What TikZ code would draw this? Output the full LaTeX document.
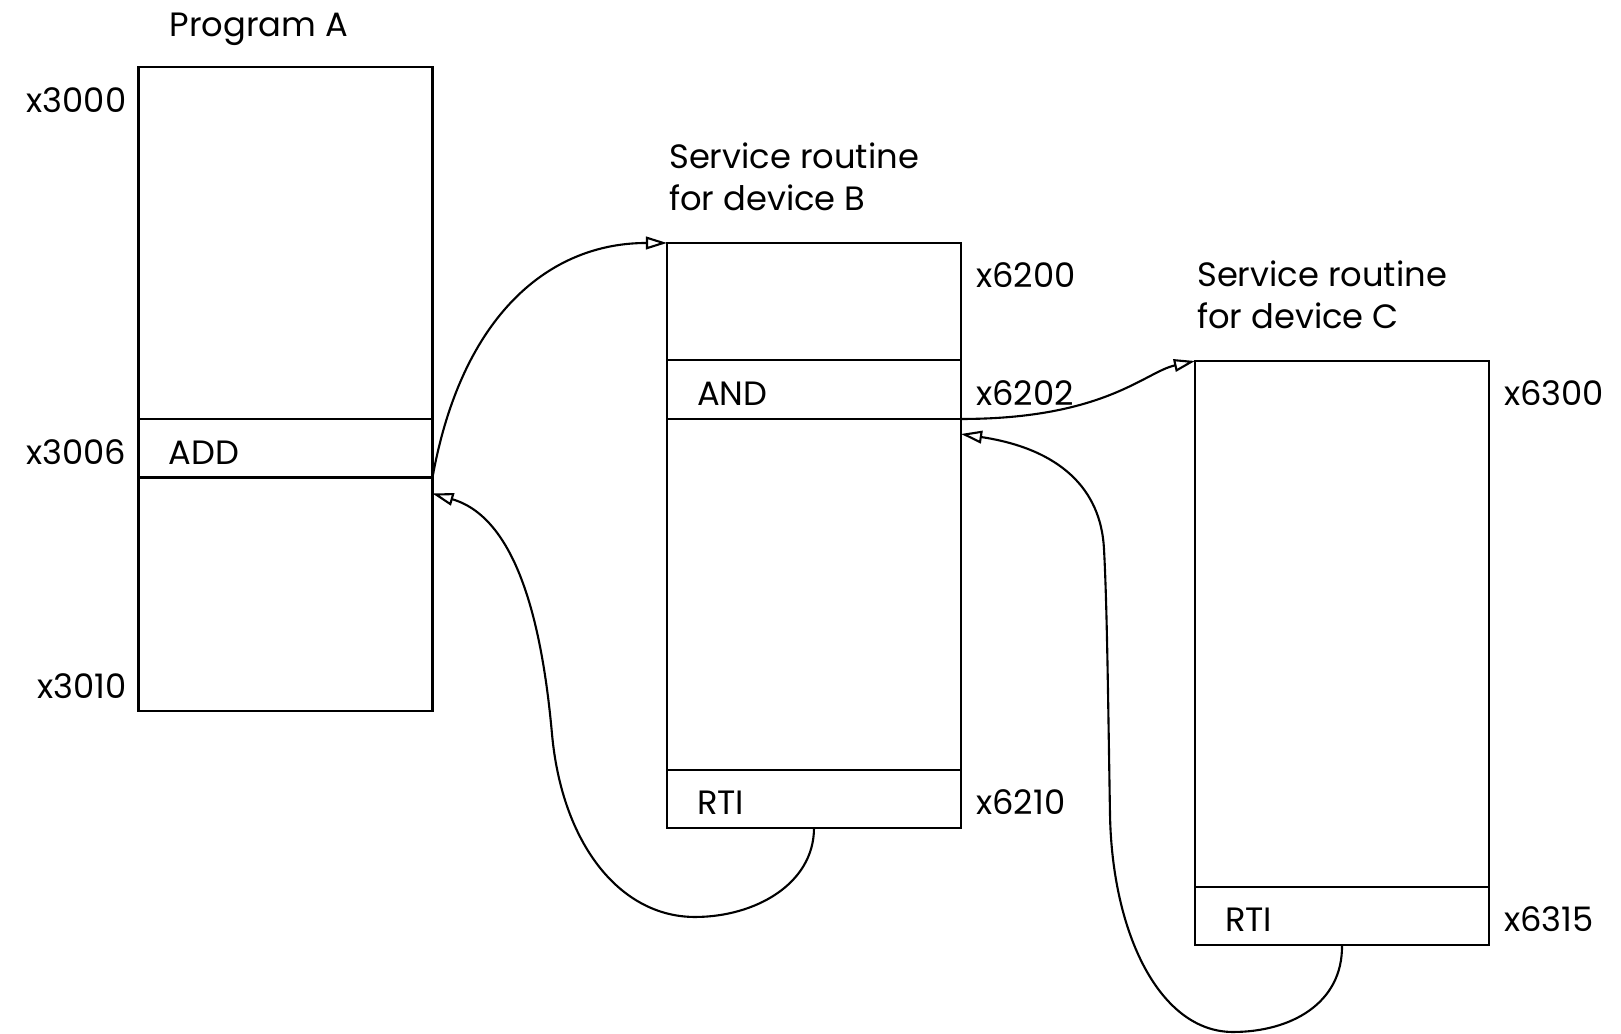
\documentclass[tikz,border=0pt]{standalone}
\usepackage{fontspec}
\setmainfont{Poppins}
\usetikzlibrary{arrows.meta,positioning}

\begin{document}
\begin{tikzpicture}[line width=0.7pt,
		cell/.style={draw, outer sep=0pt, minimum width=2.94cm, inner xsep=0.3cm, inner ysep=0pt, text width=2.34cm, text height=0.32cm, text depth=0cm, align=left, font=\fontsize{9.6}{11}\selectfont},
		addr/.style={inner sep=0pt, text height=0.32cm, text depth=0cm, font=\fontsize{9.6}{11}\selectfont},
		title/.style={inner sep=0pt, align=left, font=\fontsize{9.6}{11.8}\selectfont},
		flow/.style={line width=0.6pt, -{Triangle[open, length=6pt, width=3.6pt]}}]
		\useasboundingbox (0,0) rectangle (16.21,10.34);
		\node[cell, anchor=north west, minimum height=3.52cm] (A1) at (1.385,9.67) {};
		\node[cell, below=0pt of A1, minimum height=0.585cm] (A2) {ADD};
		\node[cell, below=0pt of A2, minimum height=2.335cm] (A3) {};
		\node[cell, anchor=north west, minimum height=1.17cm] (B1) at (6.67,7.91) {};
		\node[cell, below=0pt of B1, minimum height=0.59cm] (B2) {AND};
		\node[cell, below=0pt of B2, minimum height=3.51cm] (B3) {};
		\node[cell, below=0pt of B3, minimum height=0.58cm] (B4) {RTI};
		\node[cell, anchor=north west, minimum height=5.26cm] (C1) at (11.95,6.73) {};
		\node[cell, below=0pt of C1, minimum height=0.58cm] (C2) {RTI};
		\node[title, anchor=base west] (tA) at ([xshift=0.3cm, yshift=0.3cm]A1.north west) {Program A};
		\node[title, anchor=south west] (tB) at ([xshift=0.01cm, yshift=0.31cm]B1.north west) {Service routine\\for device B};
		\node[title, anchor=south west] (tC) at ([xshift=0.01cm, yshift=0.31cm]C1.north west) {Service routine\\for device C};
		\node[addr, below left=0.12cm and 0.11cm of A1.north west] (x3000) {x3000};
		\node[addr, left=0.11cm of A2] (x3006) {x3006};
		\node[addr, above left=0.11cm and 0.11cm of A3.south west] (x3010) {x3010};
		\node[addr, below right=0.11cm and 0.14cm of B1.north east] (x6200) {x6200};
		\node[addr, right=0.14cm of B2] (x6202) {x6202};
		\node[addr, right=0.14cm of B4] (x6210) {x6210};
		\node[addr, below right=0.11cm and 0.14cm of C1.north east] (x6300) {x6300};
		\node[addr, right=0.14cm of C2] (x6315) {x6315};
		\draw[flow] (A2.south east) .. controls (4.62,7.2) and (5.5,7.91) .. (B1.north west);
		\draw[flow] (B4.south) .. controls (8.14,1.5) and (7.55,1.17) .. (6.95,1.17) .. controls (6.2,1.17) and (5.62,1.9) .. (5.52,3.0) .. controls (5.43,4.0) and (5.2,5.15) .. ([yshift=-0.16cm]A3.north east);
		\draw[flow] (B2.south east) .. controls (11.05,6.15) and (11.45,6.62) .. (C1.north west);
		\draw[flow] (C2.south) .. controls (13.43,0.3) and (12.9,0.02) .. (12.33,0.02) .. controls (11.6,0.02) and (11.12,1.0) .. (11.10,2.2) .. controls (11.08,3.4) and (11.07,4.3) .. (11.04,4.85) .. controls (11.01,5.45) and (10.6,5.85) .. ([yshift=-0.15cm]B3.north east);
	\end{tikzpicture}
\end{document}
